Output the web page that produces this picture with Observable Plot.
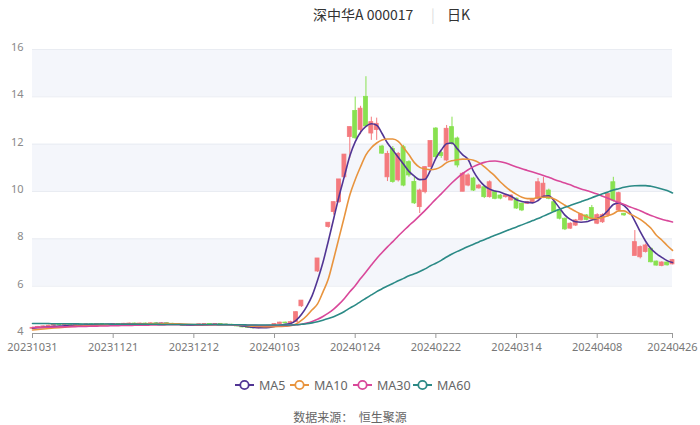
<!DOCTYPE html>
<html><head><meta charset="utf-8">
<script src="https://cdn.jsdelivr.net/npm/d3@7"></script>
<script src="https://cdn.jsdelivr.net/npm/@observablehq/plot@0.6"></script>
<style>
body{margin:0;background:#fff;font-family:"Noto Sans CJK SC","Noto Sans",sans-serif;}
#wrap{position:relative;width:700px;height:425px;overflow:hidden;}
.t{position:absolute;top:4px;font-size:14px;line-height:20px;color:#333;white-space:nowrap;}
#chart{position:absolute;top:30px;left:0;}
#legend{position:absolute;top:376px;left:0;width:700px;height:18px;}
.li{position:absolute;top:0;height:18px;display:flex;align-items:center;font-size:12.5px;color:#666;font-family:"Noto Sans",sans-serif;}
.li svg{margin-right:5px;}
#src{position:absolute;top:408px;left:0;width:700px;text-align:center;font-size:12px;color:#666;}
</style></head>
<body>
<div id="wrap">
  <div class="t" style="left:313px">深中华A 000017</div>
  <div class="t" style="left:431px;color:#ddd">|</div>
  <div class="t" style="left:447px">日K</div>
  <div id="chart"></div>
  <div id="legend"></div>
  <div id="src">数据来源：&nbsp;&nbsp;恒生聚源</div>
</div>
<script>
const dates = ["20231031",
"20231101","20231102","20231103","20231106","20231107","20231108","20231109","20231110","20231113","20231114","20231115","20231116","20231117","20231120","20231121","20231122","20231123","20231124","20231127","20231128","20231129","20231130",
"20231201","20231204","20231205","20231206","20231207","20231208","20231211","20231212","20231213","20231214","20231215","20231218","20231219","20231220","20231221","20231222","20231225","20231226","20231227","20231228","20231229",
"20240102","20240103","20240104","20240105","20240108","20240109","20240110","20240111","20240112","20240115","20240116","20240117","20240118","20240119","20240122","20240123","20240124","20240125","20240126","20240129","20240130","20240131",
"20240201","20240202","20240205","20240206","20240207","20240208","20240219","20240220","20240221","20240222","20240223","20240226","20240227","20240228","20240229",
"20240301","20240304","20240305","20240306","20240307","20240308","20240311","20240312","20240313","20240314","20240315","20240318","20240319","20240320","20240321","20240322","20240325","20240326","20240327","20240328","20240329",
"20240401","20240402","20240403","20240408","20240409","20240410","20240411","20240412","20240415","20240416","20240417","20240418","20240419","20240422","20240423","20240424","20240425","20240426"];

const open = [
4.20,4.24,4.28,4.30,4.33,4.36,4.35,4.37,4.36,4.38,
4.37,4.39,4.38,4.40,4.38,4.39,4.40,4.39,4.41,4.42,
4.40,4.42,4.41,4.43,4.42,4.43,4.41,4.40,4.36,4.32,
4.34,4.36,4.39,4.40,4.39,4.40,4.38,4.37,4.36,4.30,
4.26,4.24,4.22,4.25,4.28,4.33,4.40,4.46,4.43,4.48,
5.15,5.93,6.52,6.62,7.89,8.50,9.13,9.55,10.60,12.30,
13.40,12.60,14.00,12.45,12.60,11.90,10.60,11.80,10.47,11.87,
11.24,10.40,9.34,9.97,11.03,12.66,11.62,11.31,12.72,12.24,
9.99,10.25,10.55,10.13,10.18,9.76,9.97,9.83,9.76,9.62,
9.70,9.49,9.48,9.55,9.69,9.76,10.04,9.55,9.20,8.85,
8.43,8.56,8.78,8.99,9.30,8.64,8.70,8.99,10.39,9.20,
9.06,8.09,7.28,7.22,7.44,7.58,7.04,6.85,7.00,6.92];
const close = [
4.24,4.28,4.30,4.33,4.36,4.35,4.37,4.36,4.38,4.37,
4.39,4.38,4.40,4.38,4.39,4.40,4.39,4.41,4.42,4.40,
4.42,4.41,4.43,4.42,4.43,4.41,4.40,4.36,4.32,4.34,
4.36,4.39,4.40,4.39,4.40,4.38,4.37,4.36,4.30,4.26,
4.24,4.22,4.25,4.28,4.33,4.40,4.46,4.43,4.48,4.90,
5.39,5.93,6.52,7.17,7.89,8.68,9.55,10.51,11.56,12.72,
12.25,13.50,12.75,12.93,12.86,11.60,11.59,10.40,11.59,10.25,
10.68,9.50,10.04,11.03,12.13,11.45,11.50,12.65,12.02,11.10,
10.75,10.68,10.04,10.25,9.76,10.39,9.69,9.70,9.83,9.83,
9.28,9.20,9.55,9.66,10.39,10.33,9.69,9.13,8.85,8.40,
8.64,8.78,9.03,8.80,8.86,9.00,9.00,9.90,9.62,9.93,
8.99,8.09,7.86,7.65,7.72,7.01,6.87,7.00,6.88,7.10];
const low = [
4.18,4.22,4.26,4.28,4.31,4.33,4.33,4.34,4.35,4.35,
4.36,4.36,4.37,4.36,4.37,4.37,4.37,4.38,4.39,4.38,
4.39,4.39,4.40,4.40,4.40,4.39,4.38,4.34,4.30,4.30,
4.33,4.35,4.37,4.37,4.38,4.37,4.35,4.34,4.28,4.24,
4.22,4.20,4.20,4.23,4.27,4.32,4.38,4.41,4.41,4.46,
5.10,5.93,6.52,6.58,7.89,8.45,9.00,9.50,10.55,11.40,
12.20,12.40,12.70,12.16,12.16,11.57,10.42,10.35,10.40,10.20,
10.60,9.45,9.07,9.90,11.00,11.40,11.40,11.25,11.95,11.00,
9.99,10.20,10.00,10.10,9.70,9.72,9.65,9.65,9.72,9.60,
9.25,9.15,9.45,9.50,9.65,9.70,9.65,9.10,8.80,8.35,
8.40,8.52,8.75,8.76,8.84,8.60,8.65,8.92,9.55,9.15,
8.95,8.09,7.28,7.15,7.40,6.98,6.85,6.82,6.85,6.90];
const high = [
4.26,4.30,4.32,4.35,4.38,4.38,4.39,4.39,4.40,4.40,
4.41,4.41,4.42,4.42,4.41,4.42,4.42,4.43,4.44,4.44,
4.44,4.44,4.45,4.45,4.45,4.44,4.43,4.41,4.37,4.36,
4.38,4.41,4.42,4.42,4.42,4.41,4.40,4.39,4.37,4.31,
4.28,4.26,4.27,4.30,4.35,4.42,4.48,4.48,4.52,4.93,
5.39,5.93,6.52,7.17,7.89,8.68,9.55,10.51,11.56,12.72,
13.99,13.60,14.85,13.14,13.10,11.95,11.70,11.90,11.65,11.95,
11.30,10.60,10.10,11.05,12.13,12.70,11.70,12.79,13.14,12.30,
10.80,10.75,10.60,10.30,10.20,10.45,10.00,9.87,9.87,9.86,
9.72,9.50,9.58,9.70,10.55,10.60,10.10,9.60,9.22,8.88,
8.68,8.82,9.06,9.02,9.41,9.06,9.06,9.90,10.60,9.97,
9.08,8.09,8.35,7.70,7.78,7.62,7.06,7.03,7.03,7.13];

const ma5 = [
4.22,4.24,4.26,4.28,4.30,4.31,4.33,4.34,4.35,4.35,
4.36,4.37,4.37,4.38,4.38,4.39,4.39,4.39,4.40,4.40,
4.41,4.41,4.41,4.42,4.42,4.42,4.41,4.40,4.37,4.36,
4.35,4.35,4.36,4.37,4.38,4.38,4.38,4.37,4.35,4.32,
4.29,4.26,4.25,4.25,4.26,4.30,4.35,4.39,4.42,4.55,
4.80,5.15,5.60,6.25,7.00,7.90,8.85,9.80,10.65,11.50,
12.10,12.50,12.75,12.86,12.80,12.45,12.05,11.75,11.45,11.15,
10.85,10.65,10.50,10.52,10.90,11.40,11.75,12.02,12.05,11.80,
11.55,11.35,10.85,10.50,10.25,10.10,10.02,9.97,9.88,9.80,
9.65,9.58,9.54,9.52,9.62,9.80,9.82,9.60,9.30,9.00,
8.82,8.72,8.70,8.72,8.80,8.86,8.98,9.20,9.45,9.52,
9.40,9.15,8.75,8.30,7.90,7.58,7.38,7.22,7.08,7.00];
const ma10 = [
4.15,4.17,4.19,4.21,4.23,4.25,4.27,4.29,4.31,4.32,
4.33,4.34,4.35,4.36,4.37,4.37,4.38,4.38,4.39,4.39,
4.40,4.40,4.41,4.41,4.41,4.42,4.41,4.41,4.40,4.39,
4.38,4.37,4.37,4.37,4.37,4.37,4.37,4.37,4.36,4.35,
4.33,4.31,4.30,4.29,4.29,4.29,4.30,4.31,4.33,4.40,
4.55,4.75,5.00,5.25,5.75,6.30,7.15,8.05,8.95,9.85,
10.50,11.05,11.55,11.85,12.05,12.18,12.22,12.22,12.12,11.85,
11.55,11.22,11.02,10.95,10.92,10.95,11.05,11.22,11.30,11.34,
11.37,11.36,11.32,11.22,11.05,10.85,10.65,10.40,10.20,10.02,
9.88,9.76,9.70,9.70,9.75,9.76,9.76,9.68,9.56,9.42,
9.28,9.16,9.04,8.94,8.86,8.86,8.91,8.98,9.06,9.18,
9.18,9.06,8.95,8.82,8.65,8.45,8.15,7.95,7.72,7.51];
const ma30 = [
4.25,4.26,4.26,4.27,4.27,4.28,4.28,4.29,4.29,4.30,
4.30,4.31,4.31,4.32,4.32,4.33,4.33,4.34,4.34,4.35,
4.35,4.35,4.36,4.36,4.36,4.37,4.37,4.37,4.37,4.37,
4.37,4.37,4.37,4.37,4.37,4.37,4.37,4.37,4.36,4.36,
4.35,4.35,4.34,4.34,4.34,4.34,4.34,4.34,4.35,4.37,
4.39,4.44,4.51,4.60,4.72,4.86,5.03,5.24,5.48,5.76,
6.02,6.32,6.60,6.89,7.17,7.42,7.66,7.88,8.12,8.34,
8.56,8.76,8.98,9.20,9.44,9.68,9.90,10.14,10.37,10.58,
10.76,10.92,11.05,11.15,11.23,11.28,11.29,11.26,11.20,11.12,
11.04,10.96,10.89,10.82,10.75,10.68,10.60,10.51,10.43,10.36,
10.28,10.19,10.11,10.04,9.97,9.89,9.80,9.71,9.62,9.53,
9.45,9.36,9.27,9.19,9.08,8.99,8.90,8.83,8.77,8.71];
const ma60 = [
4.42,4.42,4.42,4.42,4.41,4.41,4.41,4.41,4.41,4.40,
4.40,4.40,4.40,4.40,4.40,4.39,4.39,4.39,4.39,4.39,
4.39,4.39,4.39,4.39,4.38,4.38,4.38,4.38,4.38,4.38,
4.38,4.38,4.38,4.38,4.38,4.37,4.37,4.37,4.37,4.37,
4.36,4.36,4.36,4.36,4.36,4.36,4.36,4.36,4.36,4.37,
4.39,4.41,4.45,4.50,4.56,4.63,4.71,4.81,4.93,5.07,
5.20,5.35,5.49,5.63,5.77,5.89,6.01,6.11,6.23,6.33,
6.44,6.52,6.62,6.73,6.86,6.97,7.09,7.23,7.36,7.47,
7.57,7.68,7.77,7.87,7.96,8.06,8.15,8.24,8.33,8.42,
8.50,8.59,8.68,8.77,8.86,8.96,9.06,9.16,9.25,9.33,
9.41,9.49,9.57,9.65,9.74,9.82,9.90,9.98,10.06,10.12,
10.18,10.22,10.24,10.25,10.25,10.22,10.17,10.11,10.04,9.94];

const xTickDates = ["20231031","20231121","20231212","20240103","20240124","20240222","20240314","20240408","20240426"];
const yTicks = [4, 6, 8, 10, 12, 14, 16];
const seriesNames = ["MA5", "MA10", "MA30", "MA60"];
const seriesColors = ["#513594", "#e8943e", "#d9489a", "#2b8a86"];
const upColor = "#f47a7e", downColor = "#88e150";

const rows = dates.map((d, i) => ({
  i, date: d, open: open[i], close: close[i], low: low[i], high: high[i],
  up: close[i] > open[i] ? true : close[i] < open[i] ? false : (i === 0 || close[i] >= close[i - 1])
}));
const maSeries = [ma5, ma10, ma30, ma60];
const maRows = maSeries.flatMap((arr, k) => arr.map((v, i) => ({i, v, name: seriesNames[k]})));
const xTicks = xTickDates.map(d => dates.indexOf(d));
const xDomain = [0, dates.length - 1];
const bands = [];
for (let k = yTicks.length - 1; k > 0; k -= 2) bands.push({lo: yTicks[k - 1], hi: yTicks[k]});
const candleHalf = 0.37;

const chart = Plot.plot({
  width: 700, height: 330,
  marginTop: 19, marginBottom: 27, marginLeft: 32, marginRight: 28,
  style: {fontSize: "11px", fontFamily: "'Noto Sans', sans-serif", background: "transparent"},
  x: {type: "linear", domain: xDomain},
  y: {domain: [yTicks[0], yTicks[yTicks.length - 1]]},
  color: {domain: seriesNames, range: seriesColors},
  marks: [
    Plot.rect(bands, {x1: () => xDomain[0], x2: () => xDomain[1], y1: "lo", y2: "hi", fill: "#f4f6fb"}),
    Plot.ruleY(yTicks.slice(1), {stroke: "#e9ecf2", strokeWidth: 1}),
    Plot.axisY(yTicks, {tickSize: 0, tickPadding: 9, dy: -2, color: "#8a8a8a", label: null}),
    Plot.axisX(xTicks, {tickFormat: i => dates[i], tickSize: 5, tickPadding: 5, color: "#777", stroke: "#999", label: null}),
    Plot.ruleY([yTicks[0]], {stroke: "#9b9b9b"}),
    Plot.ruleX(rows, {x: "i", y1: "low", y2: "high", stroke: d => d.up ? upColor : downColor, strokeWidth: 1}),
    Plot.rect(rows, {x1: d => d.i - candleHalf, x2: d => d.i + candleHalf, y1: "open", y2: "close",
      fill: d => d.up ? upColor : downColor, stroke: d => d.up ? upColor : downColor, strokeWidth: 0.8}),
    Plot.line(maRows, {x: "i", y: "v", z: "name", stroke: "name", strokeWidth: 1.6, curve: "monotone-x"})
  ]
});
document.getElementById("chart").appendChild(chart);

const legendPos = [235, 290, 353, 413];
const legend = document.getElementById("legend");
seriesNames.forEach((n, k) => {
  const el = document.createElement("div");
  el.className = "li";
  el.style.left = legendPos[k] + "px";
  el.innerHTML = `<svg width="19" height="12"><line x1="0" y1="6" x2="19" y2="6" stroke="${seriesColors[k]}" stroke-width="2"/><circle cx="9.5" cy="6" r="4.2" fill="#fff" stroke="${seriesColors[k]}" stroke-width="1.8"/></svg><span>${n}</span>`;
  legend.appendChild(el);
});
</script>
</body></html>
